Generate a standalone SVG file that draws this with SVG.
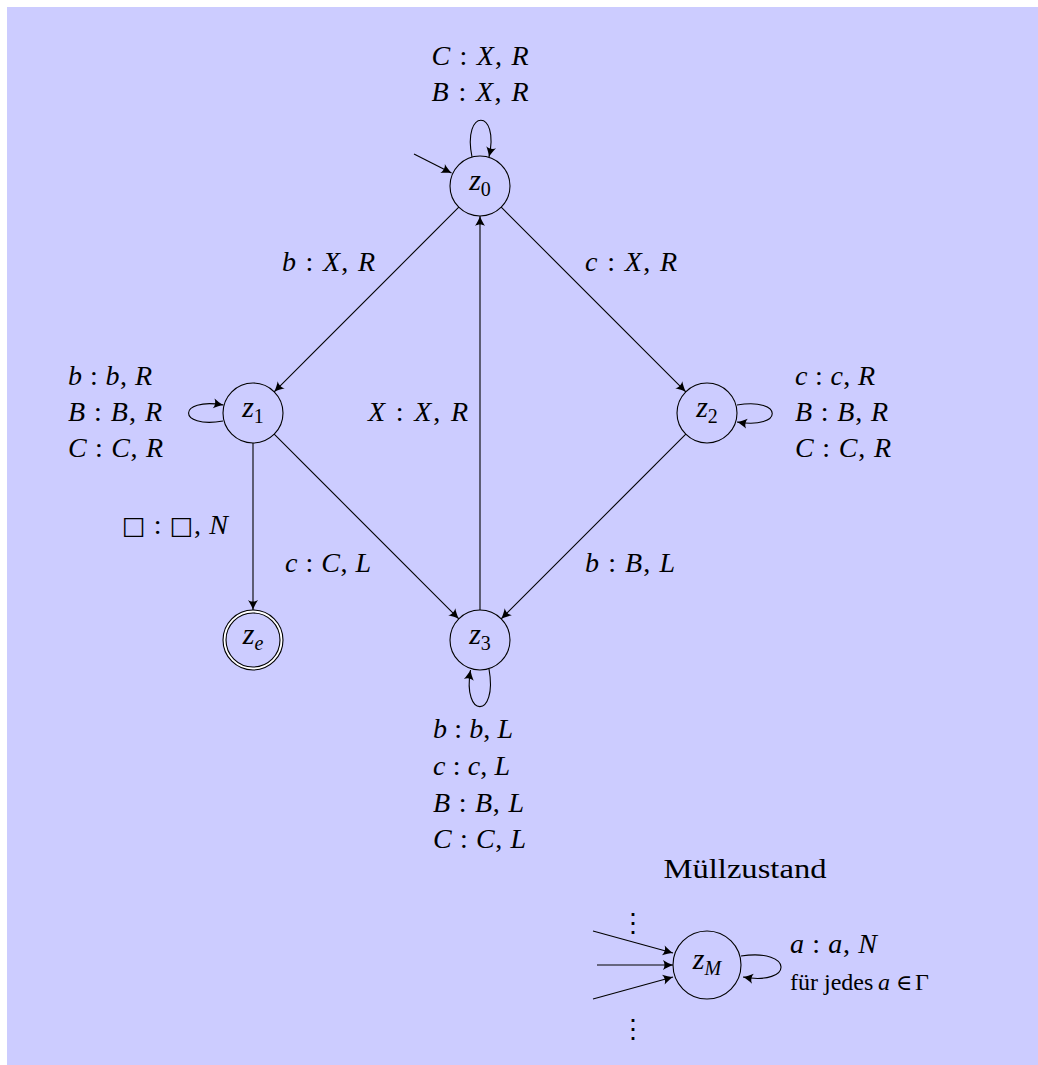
<svg xmlns="http://www.w3.org/2000/svg" width="1038" height="1065" viewBox="0 0 1038 1065">
<style>
.bg{fill:#CCCCFF;}
.st{fill:none;stroke:#000;stroke-width:1.1;}
.ed{fill:none;stroke:#000;stroke-width:1.1;marker-end:url(#ah);}
text{font-family:"Liberation Serif","DejaVu Serif",serif;font-size:28px;fill:#000;}
.m{font-style:italic;}
.nd{font-size:30px;}
.sub{font-size:20px;}
.sq{font-family:"DejaVu Sans",sans-serif;font-style:normal;font-size:25px;}
.sm{font-size:24px;}
</style>
<defs>
<marker id="ah" markerUnits="userSpaceOnUse" viewBox="-11 -6 12 12" refX="0" refY="0" markerWidth="12" markerHeight="12" orient="auto">
<path d="M0,0 C-3,-1 -7,-3 -10,-5 C-8,-2 -8,2 -10,5 C-7,3 -3,1 0,0 Z" fill="#000"/>
</marker>
</defs>
<rect class="bg" x="7" y="7" width="1031" height="1058"/>

<g id="connectors">
<path class="ed" d="M414,154 L451.5,173"/>
<path class="ed" d="M472,157 C462,108 500,108 489,157"/>
<path class="ed" d="M458.8,207.2 L274.2,391.8"/>
<path class="ed" d="M501.2,207.2 L685.8,391.8"/>
<path class="ed" d="M274.2,434.2 L458.8,618.8"/>
<path class="ed" d="M685.8,434.2 L501.2,618.8"/>
<path class="ed" d="M480,610 L480,216"/>
<path class="ed" d="M253,443 L253,610"/>
<path class="ed" d="M223,421 C177,429 177,397 223.5,405"/>
<path class="ed" d="M737,405 C784,397 784,430 737,422"/>
<path class="ed" d="M489,669 C498,719 462,719 470.5,670"/>
<path class="ed" d="M741,956 C794,948 794,986 743,977"/>
<path class="ed" d="M593,931 L673,953"/>
<path class="ed" d="M597,965 L673,965"/>
<path class="ed" d="M593,999 L673,977"/>
</g>

<g id="edge-labels">
<text x="480" y="65" text-anchor="middle" textLength="97" lengthAdjust="spacing"><tspan class="m">C</tspan> : <tspan class="m">X</tspan>, <tspan class="m">R</tspan></text>
<text x="480" y="101" text-anchor="middle" textLength="97" lengthAdjust="spacing"><tspan class="m">B</tspan> : <tspan class="m">X</tspan>, <tspan class="m">R</tspan></text>
<text x="282" y="271" textLength="93" lengthAdjust="spacing"><tspan class="m">b</tspan> : <tspan class="m">X</tspan>, <tspan class="m">R</tspan></text>
<text x="585" y="271" textLength="92" lengthAdjust="spacing"><tspan class="m">c</tspan> : <tspan class="m">X</tspan>, <tspan class="m">R</tspan></text>
<text x="68" y="385" textLength="84" lengthAdjust="spacing"><tspan class="m">b</tspan> : <tspan class="m">b</tspan>, <tspan class="m">R</tspan></text>
<text x="68" y="421" textLength="94" lengthAdjust="spacing"><tspan class="m">B</tspan> : <tspan class="m">B</tspan>, <tspan class="m">R</tspan></text>
<text x="68" y="457" textLength="95" lengthAdjust="spacing"><tspan class="m">C</tspan> : <tspan class="m">C</tspan>, <tspan class="m">R</tspan></text>
<text x="795" y="385" textLength="80" lengthAdjust="spacing"><tspan class="m">c</tspan> : <tspan class="m">c</tspan>, <tspan class="m">R</tspan></text>
<text x="795" y="421" textLength="93" lengthAdjust="spacing"><tspan class="m">B</tspan> : <tspan class="m">B</tspan>, <tspan class="m">R</tspan></text>
<text x="795" y="457" textLength="96" lengthAdjust="spacing"><tspan class="m">C</tspan> : <tspan class="m">C</tspan>, <tspan class="m">R</tspan></text>
<text x="368" y="421" textLength="100" lengthAdjust="spacing"><tspan class="m">X</tspan> : <tspan class="m">X</tspan>, <tspan class="m">R</tspan></text>
<text x="122" y="534" textLength="106" lengthAdjust="spacing"><tspan class="sq">□</tspan> : <tspan class="sq">□</tspan>, <tspan class="m">N</tspan></text>
<text x="285" y="572" textLength="86" lengthAdjust="spacing"><tspan class="m">c</tspan> : <tspan class="m">C</tspan>, <tspan class="m">L</tspan></text>
<text x="585" y="572" textLength="90" lengthAdjust="spacing"><tspan class="m">b</tspan> : <tspan class="m">B</tspan>, <tspan class="m">L</tspan></text>
<text x="433" y="738" textLength="80" lengthAdjust="spacing"><tspan class="m">b</tspan> : <tspan class="m">b</tspan>, <tspan class="m">L</tspan></text>
<text x="433" y="775" textLength="77" lengthAdjust="spacing"><tspan class="m">c</tspan> : <tspan class="m">c</tspan>, <tspan class="m">L</tspan></text>
<text x="433" y="812" textLength="91" lengthAdjust="spacing"><tspan class="m">B</tspan> : <tspan class="m">B</tspan>, <tspan class="m">L</tspan></text>
<text x="433" y="848" textLength="93" lengthAdjust="spacing"><tspan class="m">C</tspan> : <tspan class="m">C</tspan>, <tspan class="m">L</tspan></text>
<text x="745" y="878" text-anchor="middle" textLength="163" lengthAdjust="spacingAndGlyphs">Müllzustand</text>
<text x="790" y="953" textLength="87" lengthAdjust="spacing"><tspan class="m">a</tspan> : <tspan class="m">a</tspan>, <tspan class="m">N</tspan></text>
<text class="sm" x="790" y="990">für jedes</text>
<text class="sm m" x="878" y="990">a</text>
<text x="896" y="990" style="font-size:22px">∈</text>
<text class="sm" x="915" y="990">Γ</text>
<text x="633" y="932" text-anchor="middle" style="font-family:'DejaVu Serif',serif;font-size:26px">⋮</text>
<text x="633" y="1038" text-anchor="middle" style="font-family:'DejaVu Serif',serif;font-size:26px">⋮</text>
</g>

<g id="z0">
<circle class="st" cx="480" cy="186" r="30"/>
<text class="nd" x="480" y="190" text-anchor="middle"><tspan class="m">z</tspan><tspan class="sub" dy="6">0</tspan></text>
</g>
<g id="z1">
<circle class="st" cx="253" cy="413" r="30"/>
<text class="nd" x="253" y="417" text-anchor="middle"><tspan class="m">z</tspan><tspan class="sub" dy="6">1</tspan></text>
</g>
<g id="z2">
<circle class="st" cx="707" cy="413" r="30"/>
<text class="nd" x="707" y="417" text-anchor="middle"><tspan class="m">z</tspan><tspan class="sub" dy="6">2</tspan></text>
</g>
<g id="z3">
<circle class="st" cx="480" cy="640" r="30"/>
<text class="nd" x="480" y="644" text-anchor="middle"><tspan class="m">z</tspan><tspan class="sub" dy="6">3</tspan></text>
</g>
<g id="ze">
<circle cx="253" cy="640" r="28.5" fill="none" stroke="#fff" stroke-width="2.6"/>
<circle class="st" cx="253" cy="640" r="30"/>
<circle class="st" cx="253" cy="640" r="27"/>
<text class="nd" x="253" y="644" text-anchor="middle"><tspan class="m">z</tspan><tspan class="sub m" dy="6">e</tspan></text>
</g>
<g id="zM">
<circle class="st" cx="707" cy="965" r="34"/>
<text class="nd" x="707" y="969" text-anchor="middle"><tspan class="m">z</tspan><tspan class="sub m" dy="6">M</tspan></text>
</g>
</svg>
